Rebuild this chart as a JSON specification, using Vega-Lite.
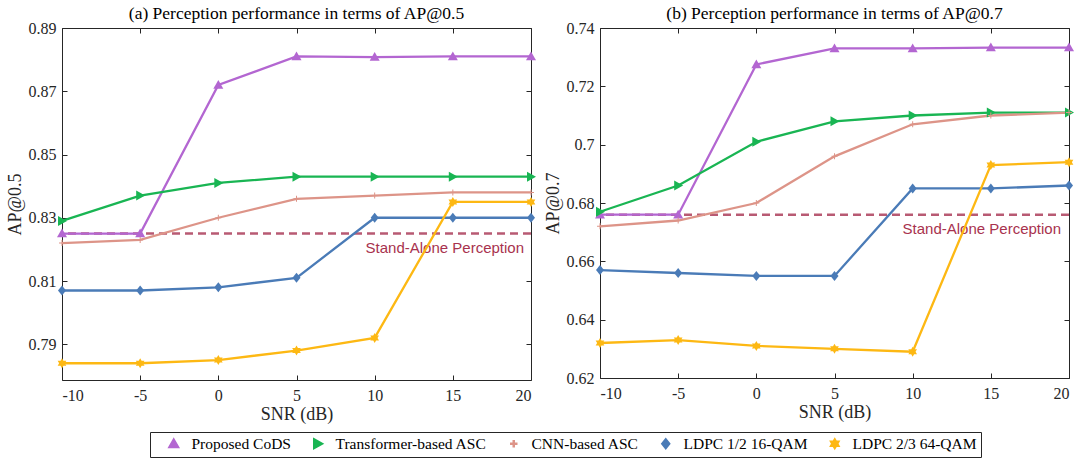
{
  "$schema": "https://vega.github.io/schema/vega-lite/v6.json",
  "padding": {"left": 5, "top": 4, "right": 2, "bottom": 0},
  "background": "white",
  "config": {
    "view": {"stroke": "#262626", "strokeWidth": 1},
    "title": {"font": "Liberation Serif", "fontSize": 17.5, "fontWeight": "normal", "color": "black", "offset": -2},
    "axis": {
      "labelFont": "Liberation Serif", "labelFontSize": 16, "labelColor": "#262626",
      "titleFont": "Liberation Serif", "titleFontSize": 18, "titleFontWeight": "normal", "titleColor": "#262626",
      "gridColor": "#e3e3e3", "tickColor": "#262626", "tickSize": -5, "domain": false
    },
    "legend": {
      "labelFont": "Liberation Serif", "labelFontSize": 15.5, "labelColor": "black", "gridAlign": "none",
      "strokeColor": "#262626", "padding": 4, "symbolSize": 100, "symbolOffset": 12, "columnPadding": 7, "labelOffset": 10
    }
  },
  "datasets": {
    "ap05": [
      {"snr": -10, "method": "Proposed CoDS", "ap": 0.825},
      {"snr": -5, "method": "Proposed CoDS", "ap": 0.825},
      {"snr": 0, "method": "Proposed CoDS", "ap": 0.872},
      {"snr": 5, "method": "Proposed CoDS", "ap": 0.881},
      {"snr": 10, "method": "Proposed CoDS", "ap": 0.8808},
      {"snr": 15, "method": "Proposed CoDS", "ap": 0.881},
      {"snr": 20, "method": "Proposed CoDS", "ap": 0.881},
      {"snr": -10, "method": "Transformer-based ASC", "ap": 0.829},
      {"snr": -5, "method": "Transformer-based ASC", "ap": 0.837},
      {"snr": 0, "method": "Transformer-based ASC", "ap": 0.841},
      {"snr": 5, "method": "Transformer-based ASC", "ap": 0.843},
      {"snr": 10, "method": "Transformer-based ASC", "ap": 0.843},
      {"snr": 15, "method": "Transformer-based ASC", "ap": 0.843},
      {"snr": 20, "method": "Transformer-based ASC", "ap": 0.843},
      {"snr": -10, "method": "CNN-based ASC", "ap": 0.822},
      {"snr": -5, "method": "CNN-based ASC", "ap": 0.823},
      {"snr": 0, "method": "CNN-based ASC", "ap": 0.830},
      {"snr": 5, "method": "CNN-based ASC", "ap": 0.836},
      {"snr": 10, "method": "CNN-based ASC", "ap": 0.837},
      {"snr": 15, "method": "CNN-based ASC", "ap": 0.838},
      {"snr": 20, "method": "CNN-based ASC", "ap": 0.838},
      {"snr": -10, "method": "LDPC 1/2 16-QAM", "ap": 0.807},
      {"snr": -5, "method": "LDPC 1/2 16-QAM", "ap": 0.807},
      {"snr": 0, "method": "LDPC 1/2 16-QAM", "ap": 0.808},
      {"snr": 5, "method": "LDPC 1/2 16-QAM", "ap": 0.811},
      {"snr": 10, "method": "LDPC 1/2 16-QAM", "ap": 0.830},
      {"snr": 15, "method": "LDPC 1/2 16-QAM", "ap": 0.830},
      {"snr": 20, "method": "LDPC 1/2 16-QAM", "ap": 0.830},
      {"snr": -10, "method": "LDPC 2/3 64-QAM", "ap": 0.784},
      {"snr": -5, "method": "LDPC 2/3 64-QAM", "ap": 0.784},
      {"snr": 0, "method": "LDPC 2/3 64-QAM", "ap": 0.785},
      {"snr": 5, "method": "LDPC 2/3 64-QAM", "ap": 0.788},
      {"snr": 10, "method": "LDPC 2/3 64-QAM", "ap": 0.792},
      {"snr": 15, "method": "LDPC 2/3 64-QAM", "ap": 0.835},
      {"snr": 20, "method": "LDPC 2/3 64-QAM", "ap": 0.835}
    ],
    "ap07": [
      {"snr": -10, "method": "Proposed CoDS", "ap": 0.676},
      {"snr": -5, "method": "Proposed CoDS", "ap": 0.676},
      {"snr": 0, "method": "Proposed CoDS", "ap": 0.7275},
      {"snr": 5, "method": "Proposed CoDS", "ap": 0.733},
      {"snr": 10, "method": "Proposed CoDS", "ap": 0.733},
      {"snr": 15, "method": "Proposed CoDS", "ap": 0.7333},
      {"snr": 20, "method": "Proposed CoDS", "ap": 0.7333},
      {"snr": -10, "method": "Transformer-based ASC", "ap": 0.677},
      {"snr": -5, "method": "Transformer-based ASC", "ap": 0.686},
      {"snr": 0, "method": "Transformer-based ASC", "ap": 0.701},
      {"snr": 5, "method": "Transformer-based ASC", "ap": 0.708},
      {"snr": 10, "method": "Transformer-based ASC", "ap": 0.710},
      {"snr": 15, "method": "Transformer-based ASC", "ap": 0.711},
      {"snr": 20, "method": "Transformer-based ASC", "ap": 0.711},
      {"snr": -10, "method": "CNN-based ASC", "ap": 0.672},
      {"snr": -5, "method": "CNN-based ASC", "ap": 0.674},
      {"snr": 0, "method": "CNN-based ASC", "ap": 0.680},
      {"snr": 5, "method": "CNN-based ASC", "ap": 0.696},
      {"snr": 10, "method": "CNN-based ASC", "ap": 0.707},
      {"snr": 15, "method": "CNN-based ASC", "ap": 0.710},
      {"snr": 20, "method": "CNN-based ASC", "ap": 0.711},
      {"snr": -10, "method": "LDPC 1/2 16-QAM", "ap": 0.657},
      {"snr": -5, "method": "LDPC 1/2 16-QAM", "ap": 0.656},
      {"snr": 0, "method": "LDPC 1/2 16-QAM", "ap": 0.655},
      {"snr": 5, "method": "LDPC 1/2 16-QAM", "ap": 0.655},
      {"snr": 10, "method": "LDPC 1/2 16-QAM", "ap": 0.685},
      {"snr": 15, "method": "LDPC 1/2 16-QAM", "ap": 0.685},
      {"snr": 20, "method": "LDPC 1/2 16-QAM", "ap": 0.686},
      {"snr": -10, "method": "LDPC 2/3 64-QAM", "ap": 0.632},
      {"snr": -5, "method": "LDPC 2/3 64-QAM", "ap": 0.633},
      {"snr": 0, "method": "LDPC 2/3 64-QAM", "ap": 0.631},
      {"snr": 5, "method": "LDPC 2/3 64-QAM", "ap": 0.630},
      {"snr": 10, "method": "LDPC 2/3 64-QAM", "ap": 0.629},
      {"snr": 15, "method": "LDPC 2/3 64-QAM", "ap": 0.693},
      {"snr": 20, "method": "LDPC 2/3 64-QAM", "ap": 0.694}
    ]
  },
  "spacing": 6,
  "hconcat": [
    {
      "width": 469,
      "height": 352,
      "title": "(a) Perception performance in terms of AP@0.5",
      "layer": [
        {
          "data": {"values": [{"ap": 0.825}]},
          "mark": {"type": "rule", "color": "#b85a73", "strokeWidth": 2.5, "strokeDash": [8, 5]},
          "encoding": {"y": {"field": "ap", "type": "quantitative", "axis": null, "scale": {"domain": [0.7787, 0.89], "nice": false, "zero": false}}}
        },
        {
          "data": {"values": [{"snr": 20, "ap": 0.825, "label": "Stand-Alone Perception"}]},
          "mark": {"type": "text", "align": "right", "baseline": "middle", "dx": -7, "dy": 14, "font": "Liberation Sans", "fontSize": 15, "color": "#a8324e"},
          "encoding": {
            "x": {"field": "snr", "type": "quantitative", "axis": null},
            "y": {"field": "ap", "type": "quantitative", "axis": null},
            "text": {"field": "label"}
          }
        },
        {
          "data": {"name": "ap05"},
          "mark": {"type": "line", "strokeWidth": 2.3},
          "encoding": {
            "x": {"field": "snr", "type": "quantitative", "title": "SNR (dB)", "scale": {"domain": [-10, 20], "nice": false, "zero": false},
              "axis": {"values": [-10, -5, 0, 5, 10, 15, 20], "labelExpr": "'' + datum.value", "labelPadding": 12, "titlePadding": 2,
                "labelFont": "Liberation Serif", "labelFontSize": 16, "titleFont": "Liberation Serif", "titleFontSize": 18, "titleFontWeight": "normal"}},
            "y": {"field": "ap", "type": "quantitative", "title": "AP@0.5",
              "axis": {"values": [0.79, 0.81, 0.83, 0.85, 0.87, 0.89], "format": "~g", "labelPadding": 11, "titlePadding": 4,
                "labelFont": "Liberation Serif", "labelFontSize": 16, "titleFont": "Liberation Serif", "titleFontSize": 18, "titleFontWeight": "normal"}},
            "color": {"field": "method", "type": "nominal",
              "scale": {"domain": ["Proposed CoDS", "Transformer-based ASC", "CNN-based ASC", "LDPC 1/2 16-QAM", "LDPC 2/3 64-QAM"],
                "range": ["#b366d1", "#19b553", "#dd9488", "#4a7bb7", "#fdb813"]}}
          }
        },
        {
          "data": {"name": "ap05"},
          "mark": {"type": "point", "filled": true, "opacity": 1, "size": 100},
          "encoding": {
            "x": {"field": "snr", "type": "quantitative", "axis": {"orient": "top", "values": [-10, -5, 0, 5, 10, 15, 20], "labels": false, "grid": false, "title": null}},
            "y": {"field": "ap", "type": "quantitative", "axis": {"orient": "right", "values": [0.79, 0.81, 0.83, 0.85, 0.87, 0.89], "labels": false, "grid": false, "title": null}},
            "color": {"field": "method", "type": "nominal",
              "legend": {
                "title": null, "orient": "none", "direction": "horizontal", "columns": 5, "legendX": 88, "legendY": 404,
                "labelFont": "Liberation Serif", "labelFontSize": 15.5, "gridAlign": "none"
              }},
            "shape": {"field": "method", "type": "nominal", "legend": null,
              "scale": {"domain": ["Proposed CoDS", "Transformer-based ASC", "CNN-based ASC", "LDPC 1/2 16-QAM", "LDPC 2/3 64-QAM"],
                "range": ["M0,-1L1,0.75H-1Z", "M-0.8,-1L1,0L-0.8,1Z", "M-0.1,-0.6H0.1V-0.1H0.6V0.1H0.1V0.6H-0.1V0.1H-0.6V-0.1H-0.1Z", "M0,-1L0.8,0L0,1L-0.8,0Z", "M0,-1L0.289,-0.5L0.866,-0.5L0.577,0L0.866,0.5L0.289,0.5L0,1L-0.289,0.5L-0.866,0.5L-0.577,0L-0.866,-0.5L-0.289,-0.5Z"]}}
          }
        }
      ],
      "resolve": {"axis": {"x": "independent", "y": "independent"}}
    },
    {
      "width": 469,
      "height": 350,
      "title": "(b) Perception performance in terms of AP@0.7",
      "layer": [
        {
          "data": {"values": [{"ap": 0.676}]},
          "mark": {"type": "rule", "color": "#b85a73", "strokeWidth": 2.5, "strokeDash": [8, 5]},
          "encoding": {"y": {"field": "ap", "type": "quantitative", "axis": null, "scale": {"domain": [0.62, 0.74], "nice": false, "zero": false}}}
        },
        {
          "data": {"values": [{"snr": 20, "ap": 0.676, "label": "Stand-Alone Perception"}]},
          "mark": {"type": "text", "align": "right", "baseline": "middle", "dx": -8, "dy": 14, "font": "Liberation Sans", "fontSize": 15, "color": "#a8324e"},
          "encoding": {
            "x": {"field": "snr", "type": "quantitative", "axis": null},
            "y": {"field": "ap", "type": "quantitative", "axis": null},
            "text": {"field": "label"}
          }
        },
        {
          "data": {"name": "ap07"},
          "mark": {"type": "line", "strokeWidth": 2.3},
          "encoding": {
            "x": {"field": "snr", "type": "quantitative", "title": "SNR (dB)", "scale": {"domain": [-10, 20], "nice": false, "zero": false},
              "axis": {"values": [-10, -5, 0, 5, 10, 15, 20], "labelExpr": "'' + datum.value", "labelPadding": 12, "titlePadding": 2,
                "labelFont": "Liberation Serif", "labelFontSize": 16, "titleFont": "Liberation Serif", "titleFontSize": 18, "titleFontWeight": "normal"}},
            "y": {"field": "ap", "type": "quantitative", "title": "AP@0.7",
              "axis": {"values": [0.62, 0.64, 0.66, 0.68, 0.7, 0.72, 0.74], "format": "~g", "labelPadding": 11, "titlePadding": 4,
                "labelFont": "Liberation Serif", "labelFontSize": 16, "titleFont": "Liberation Serif", "titleFontSize": 18, "titleFontWeight": "normal"}},
            "color": {"field": "method", "type": "nominal"}
          }
        },
        {
          "data": {"name": "ap07"},
          "mark": {"type": "point", "filled": true, "opacity": 1, "size": 100},
          "encoding": {
            "x": {"field": "snr", "type": "quantitative", "axis": {"orient": "top", "values": [-10, -5, 0, 5, 10, 15, 20], "labels": false, "grid": false, "title": null}},
            "y": {"field": "ap", "type": "quantitative", "axis": {"orient": "right", "values": [0.62, 0.64, 0.66, 0.68, 0.7, 0.72, 0.74], "labels": false, "grid": false, "title": null}},
            "color": {"field": "method", "type": "nominal"},
            "shape": {"field": "method", "type": "nominal", "legend": null}
          }
        }
      ],
      "resolve": {"axis": {"x": "independent", "y": "independent"}}
    }
  ]
}
